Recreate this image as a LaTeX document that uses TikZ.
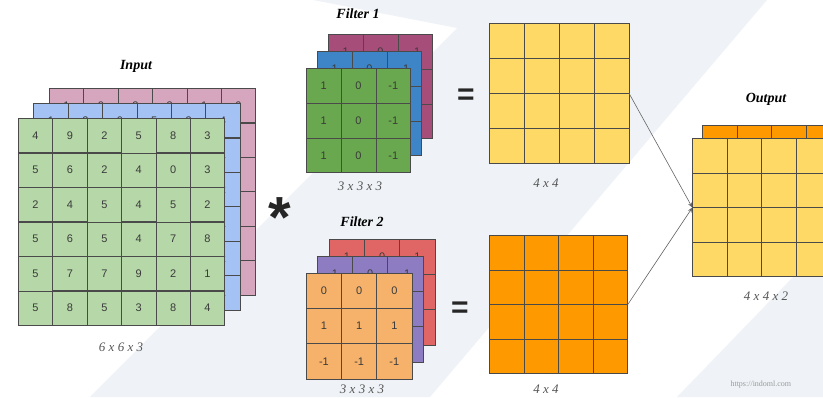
\documentclass[tikz,border=0pt]{standalone}
\usepackage{fontspec}
\setmainfont{Liberation Serif}
\setsansfont{Liberation Sans}
\usetikzlibrary{matrix,arrows.meta}

\definecolor{bgband}{HTML}{EFF3F7}
\definecolor{gridline}{HTML}{4A4A4A}
\definecolor{cellnum}{HTML}{3A3A3A}
\definecolor{dimtext}{HTML}{555555}
\definecolor{inGreen}{HTML}{B6D7A8}
\definecolor{inBlue}{HTML}{A4C2F4}
\definecolor{inPink}{HTML}{D5A6BD}
\definecolor{fGreen}{HTML}{6AA84F}
\definecolor{fBlue}{HTML}{3D85C6}
\definecolor{fPlum}{HTML}{A64D79}
\definecolor{fOrange}{HTML}{F6B26B}
\definecolor{fPurple}{HTML}{8E7CC3}
\definecolor{fRed}{HTML}{E06666}
\definecolor{mapYellow}{HTML}{FFD966}
\definecolor{mapOrange}{HTML}{FF9900}

\tikzset{
  layer/.style 2 args={matrix of nodes, nodes in empty cells, inner sep=0pt, outer sep=0pt,
    anchor=north west, column sep=-0.7pt, row sep=-0.7pt,
    nodes={draw=gridline, line width=0.7pt, fill=#1, minimum size=#2, inner sep=0pt,
      outer sep=0pt, text=cellnum, font=\sffamily\fontsize{11}{12}\selectfont}},
  title/.style={font=\bfseries\itshape\fontsize{14}{16}\selectfont},
  dims/.style={font=\itshape\fontsize{13}{15}\selectfont, text=dimtext},
  sign/.style={font=\sffamily\bfseries\fontsize{#1}{#1}\selectfont, text=black!85},
  link/.style={-{Stealth[length=5pt,width=4pt]}, draw=black!60, line width=0.6pt},
}

\begin{document}
\begin{tikzpicture}[x=1pt,y=-1pt]
  \useasboundingbox (0,0) rectangle (823,397);
  % background bands
  \fill[white] (0,0) rectangle (823,397);
  \fill[bgband] (313,0) -- (767,0) -- (430,397) -- (90,397) -- (457,28) -- cycle;
  \fill[bgband] (677,397) -- (823,397) -- (823,246) -- cycle;

  % input volume
  \matrix[layer={inPink}{34.4pt}] (inC) at (49,88)
  {
    1 & 0 & 2 & 3 & 1 & 0 \\
    2 & 1 & 0 & 1 & 2 & 1 \\
    0 & 2 & 1 & 3 & 0 & 2 \\
    1 & 0 & 2 & 1 & 3 & 1 \\
    2 & 1 & 0 & 2 & 1 & 0 \\
    1 & 3 & 2 & 0 & 1 & 2 \\
  };
  \matrix[layer={inBlue}{34.4pt}] (inB) at (33.5,103)
  {
    1 & 2 & 0 & 5 & 3 & 4 \\
    3 & 1 & 4 & 2 & 0 & 1 \\
    2 & 0 & 3 & 1 & 4 & 2 \\
    4 & 2 & 1 & 0 & 3 & 1 \\
    1 & 3 & 2 & 4 & 0 & 2 \\
    0 & 1 & 4 & 2 & 3 & 1 \\
  };
  \matrix[layer={inGreen}{34.4pt}] (inA) at (18,118)
  {
    4 & 9 & 2 & 5 & 8 & 3 \\
    5 & 6 & 2 & 4 & 0 & 3 \\
    2 & 4 & 5 & 4 & 5 & 2 \\
    5 & 6 & 5 & 4 & 7 & 8 \\
    5 & 7 & 7 & 9 & 2 & 1 \\
    5 & 8 & 5 & 3 & 8 & 4 \\
  };
  \node[title] (inTitle) at (136,66) {Input};
  \node[dims] (inDims) at (121,347) {6 x 6 x 3};

  \node[sign=58] (conv) at (280,218) {*};

  % filter 1
  \matrix[layer={fPlum}{34.8pt}] (fa3) at (328,34)
  {
    1 & 0 & -1 \\
    1 & 0 & -1 \\
    1 & 0 & -1 \\
  };
  \matrix[layer={fBlue}{34.8pt}] (fa2) at (317,51)
  {
    1 & 0 & -1 \\
    1 & 0 & -1 \\
    1 & 0 & -1 \\
  };
  \matrix[layer={fGreen}{34.8pt}] (fa1) at (306,68)
  {
    1 & 0 & -1 \\
    1 & 0 & -1 \\
    1 & 0 & -1 \\
  };
  \node[title] (faTitle) at (358,14) {Filter 1};
  \node[dims] (faDims) at (360,186) {3 x 3 x 3};

  % filter 2
  \matrix[layer={fRed}{35.2pt}] (fb3) at (329,239)
  {
    1 & 0 & 1 \\
    1 & 0 & 1 \\
    1 & 0 & 1 \\
  };
  \matrix[layer={fPurple}{35.2pt}] (fb2) at (317,256)
  {
    1 & 0 & -1 \\
    1 & 0 & -1 \\
    1 & 0 & -1 \\
  };
  \matrix[layer={fOrange}{35.2pt}] (fb1) at (306,273)
  {
    0 & 0 & 0 \\
    1 & 1 & 1 \\
    -1 & -1 & -1 \\
  };
  \node[title] (fbTitle) at (362,222) {Filter 2};
  \node[dims] (fbDims) at (362,389) {3 x 3 x 3};

  % feature maps
  \node[sign=30] (eqA) at (466,97) {=};
  \node[sign=30] (eqB) at (460,310) {=};
  \matrix[layer={mapYellow}{34.9pt}] (mapA) at (489,23)
  {
    & & & \\
    & & & \\
    & & & \\
    & & & \\
  };
  \node[dims] (mapADims) at (546,183) {4 x 4};
  \matrix[layer={mapOrange}{34.6pt}] (mapB) at (489,235)
  {
    & & & \\
    & & & \\
    & & & \\
    & & & \\
  };
  \node[dims] (mapBDims) at (546,389) {4 x 4};

  % output volume
  \matrix[layer={mapOrange}{34.6pt}] (outB) at (702,125)
  {
    & & & \\
    & & & \\
    & & & \\
    & & & \\
  };
  \matrix[layer={mapYellow}{34.6pt}] (outA) at (692,138)
  {
    & & & \\
    & & & \\
    & & & \\
    & & & \\
  };
  \node[title] (outTitle) at (766,99) {Output};
  \node[dims] (outDims) at (766,296) {4 x 4 x 2};

  \draw[link] (mapA-2-4.south east) -- (outA-3-1.north west);
  \draw[link] (mapB-3-4.north east) -- (outA-3-1.north west);

  \node[anchor=west, text=black!40, font=\fontsize{8}{9}\selectfont] (site) at (727,385) {https://indoml.com};
\end{tikzpicture}
\end{document}
